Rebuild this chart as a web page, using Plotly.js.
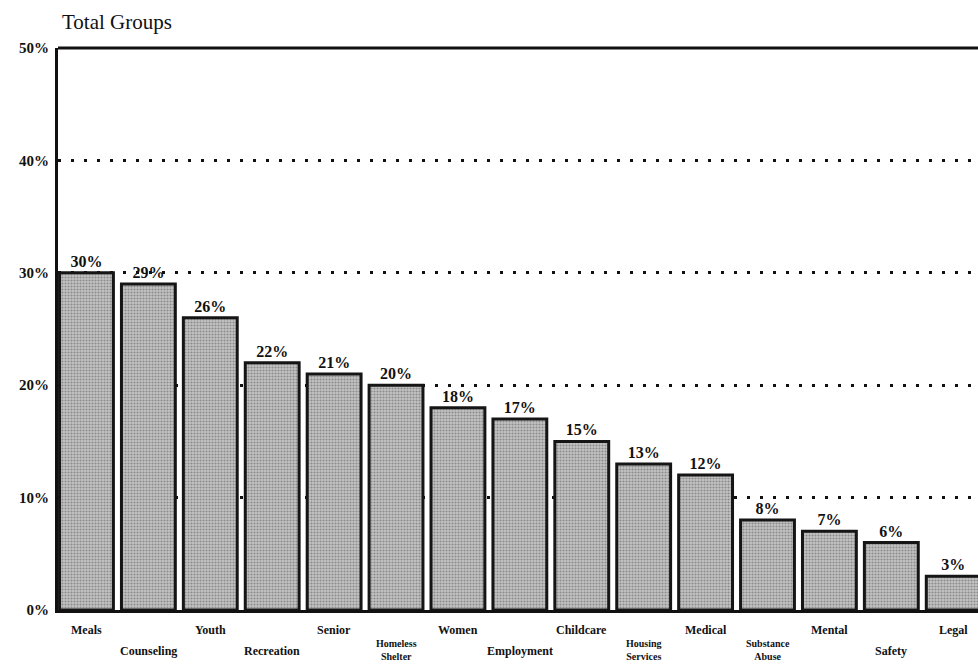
<!DOCTYPE html>
<html>
<head>
<meta charset="utf-8">
<script src="https://cdn.plot.ly/plotly-3.0.1.min.js"></script>
<style>html,body{margin:0;padding:0;background:#fff;}#chart{width:978px;height:666px;}</style>
</head>
<body>
<div id="chart"></div>
<script>
const categories = ["Meals","Counseling","Youth","Recreation","Senior","Homeless<br>Shelter","Women","Employment","Childcare","Housing<br>Services","Medical","Substance<br>Abuse","Mental","Safety","Legal"];
const values = [30,29,26,22,21,20,18,17,15,13,12,8,7,6,3];
const yTickVals = [0,10,20,30,40,50];
const yTickText = ["0%","10%","20%","30%","40%","50%"];

const idx = categories.map((c,i)=>i);
const serif = "Liberation Serif, Times New Roman, serif";

const trace = {
  type: "bar",
  x: idx,
  y: values,
  width: 0.87,
  marker: {
    color: "#b0b0b0",
    line: {color: "#151515", width: 3},
    pattern: {shape: ".", fgcolor: "#505050", bgcolor: "#c4c4c4", size: 3, solidity: 0.4, fillmode: "overlay"}
  },
  text: values.map(v => v + "%"),
  textposition: "outside",
  cliponaxis: false,
  textfont: {family: serif, size: 16, color: "#111", weight: "bold"},
  hoverinfo: "skip"
};

const annotations = categories.map((c,i) => {
  const twoLine = c.indexOf("<br>") >= 0;
  const shift = (i % 2 === 0) ? -20 : (twoLine ? -40 : -41);
  return {
    x: i, xref: "x", y: 0, yref: "paper",
    text: c, showarrow: false, yanchor: "middle", xanchor: "center",
    yshift: shift,
    font: {family: serif, size: twoLine ? 10 : 12, color: "#111", weight: "bold"}
  };
});
annotations.push({
  x: 0, xref: "paper", xanchor: "left", y: 1, yref: "paper", yanchor: "bottom",
  xshift: 2, yshift: 12,
  text: "Total Groups", showarrow: false,
  font: {family: serif, size: 21, color: "#111"}
});

const layout = {
  width: 978, height: 666,
  margin: {l: 58, r: 0, t: 48, b: 56, pad: 0},
  paper_bgcolor: "#fff", plot_bgcolor: "#fff",
  showlegend: false,
  bargap: 0.13,
  xaxis: {
    range: [-0.46, 14.4],
    showticklabels: false, ticks: "",
    showgrid: false, zeroline: false,
    showline: true, linecolor: "#111", linewidth: 3
  },
  yaxis: {
    range: [0, 50],
    tickvals: yTickVals, ticktext: yTickText,
    tickfont: {family: serif, size: 15, color: "#111", weight: "bold"},
    ticks: "", ticklen: 0, ticklabelstandoff: 3,
    showgrid: true, gridcolor: "#111", gridwidth: 3, griddash: "3px,10px",
    zeroline: false,
    showline: true, linecolor: "#111", linewidth: 3
  },
  shapes: [{
    type: "line", xref: "paper", yref: "paper", x0: 0, x1: 1, y0: 1, y1: 1,
    line: {color: "#111", width: 3}
  }],
  annotations: annotations
};

Plotly.newPlot("chart", [trace], layout, {displayModeBar: false, staticPlot: true});
</script>
</body>
</html>
